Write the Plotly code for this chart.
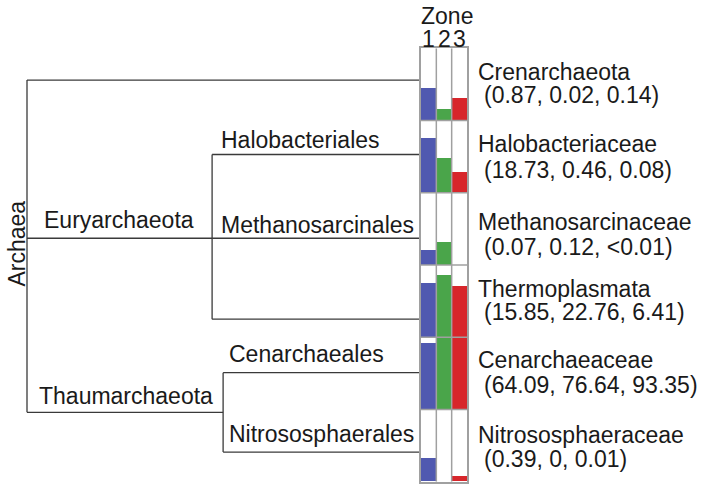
import plotly.graph_objects as go

W, H = 704, 489

# ---------------- data ----------------
taxa = ["Crenarchaeota", "Halobacteriaceae", "Methanosarcinaceae",
        "Thermoplasmata", "Cenarchaeaceae", "Nitrososphaeraceae"]
zone_labels = ["1", "2", "3"]
zone1_pct = ["0.87", "18.73", "0.07", "15.85", "64.09", "0.39"]
zone2_pct = ["0.02", "0.46", "0.12", "22.76", "76.64", "0"]
zone3_pct = ["0.14", "0.08", "<0.01", "6.41", "93.35", "0.01"]
# displayed bar fill (fraction of cell height)
zone1_fill = [0.44, 0.75, 0.21, 0.75, 0.91, 0.32]
zone2_fill = [0.16, 0.48, 0.32, 0.86, 1.00, 0.00]
zone3_fill = [0.31, 0.28, 0.00, 0.71, 1.00, 0.07]
zone_colors = ["#5059b0", "#4aa54a", "#d7262b"]

# tree: leaf order = rows; leaf y in row units
leaf_names = ["Crenarchaeota", "Halobacteriales", "Methanosarcinales",
              "Thermoplasmata", "Cenarchaeales", "Nitrososphaerales"]
leaf_y = [0.44, 1.47, 2.63, 3.75, 4.49, 5.59]
# internal nodes: depth and children
node_depth = {"Archaea": 0.0, "Euryarchaeota": 0.471, "Thaumarchaeota": 0.499}
node_children = {
    "Archaea": ["Crenarchaeota", "Euryarchaeota", "Thaumarchaeota"],
    "Euryarchaeota": ["Halobacteriales", "Methanosarcinales", "Thermoplasmata"],
    "Thaumarchaeota": ["Cenarchaeales", "Nitrososphaerales"],
}
leaf_depth = 1.0

# ---------------- layout helpers ----------------
FONT = "Liberation Sans, Arial, Helvetica, sans-serif"
TXT = "#1a1a1a"
FS = 23
def px(x):
    return x / W
def py(y):
    return 1 - y / H

row_top_px, row_bot_px = 48.3, 481.7
panel_l_px, panel_r_px = 421.0, 467.0
tree_r_px = 420.0
ydom = [py(row_bot_px), py(row_top_px)]
nrows = len(taxa)

fig = go.Figure()

# ---------------- tree ----------------
ypos = dict(zip(leaf_names, leaf_y))
xpos = {n: leaf_depth for n in leaf_names}
xpos.update(node_depth)

def node_y(n):
    if n in ypos:
        return ypos[n]
    ys = sorted(node_y(c) for c in node_children[n])
    y = ys[len(ys) // 2] if len(ys) % 2 == 1 and n != "Archaea" else (ys[0] + ys[-1]) / 2
    ypos[n] = y
    return y

for n in ["Euryarchaeota", "Thaumarchaeota", "Archaea"]:
    node_y(n)

lx, ly = [], []
for parent, kids in node_children.items():
    ky = [ypos[k] for k in kids]
    lx += [xpos[parent], xpos[parent], None]
    ly += [min(ky), max(ky), None]
    for k in kids:
        lx += [xpos[parent], xpos[k], None]
        ly += [ypos[k], ypos[k], None]

fig.add_trace(go.Scatter(x=lx, y=ly, mode="lines",
                         line=dict(color="#3a3a3a", width=1.3),
                         hoverinfo="skip", showlegend=False,
                         xaxis="x", yaxis="y"))

# ---------------- bars ----------------
fills = [zone1_fill, zone2_fill, zone3_fill]
for zi, (f, c) in enumerate(zip(fills, zone_colors)):
    fig.add_trace(go.Bar(
        x=[zi + 1] * nrows,
        y=[-v for v in f],
        base=[r + 1 for r in range(nrows)],
        width=1.0,
        marker=dict(color=c, line=dict(width=0)),
        hoverinfo="skip", showlegend=False,
        xaxis="x2", yaxis="y2"))

shapes = []
GRID = "#a0a0a0"
for b in range(1, len(zone_labels)):
    shapes.append(dict(type="line", xref="x2", yref="y2",
                       x0=b + 0.5, x1=b + 0.5, y0=0, y1=nrows,
                       line=dict(color=GRID, width=1.5)))
for r in range(1, nrows):
    shapes.append(dict(type="line", xref="x2", yref="y2",
                       x0=0.5, x1=len(zone_labels) + 0.5, y0=r, y1=r,
                       line=dict(color=GRID, width=1.5)))

# ---------------- annotations ----------------
ann = []
def label(text, x_px, base_px, xanchor="left", **kw):
    ann.append(dict(text=text, x=px(x_px), y=py(base_px - 8), xref="paper", yref="paper",
                    xanchor=xanchor, yanchor="middle", showarrow=False,
                    font=dict(family=FONT, size=FS, color=TXT), **kw))

line1_base = [80, 151.7, 230, 296.7, 368.3, 443.3]
line2_base = [103.3, 177.7, 255, 320, 393.3, 466.7]
for i, t in enumerate(taxa):
    label(t, 475.5, line1_base[i])
    label("(%s, %s, %s)" % (zone1_pct[i], zone2_pct[i], zone3_pct[i]), 482, line2_base[i])

label("Euryarchaeota", 42, 227.7)
label("Thaumarchaeota", 36.5, 404)
label("Halobacteriales", 219, 148.3)
label("Methanosarcinales", 219, 232.7)
label("Cenarchaeales", 226.5, 362.3)
label("Nitrososphaerales", 226.5, 442.3)

ann.append(dict(text="Archaea", x=px(16.5), y=py(244), xref="paper", yref="paper",
                xanchor="center", yanchor="middle", textangle=-90, showarrow=False,
                font=dict(family=FONT, size=FS, color=TXT)))

ann.append(dict(text="Zone", x=px(446.5), y=py(24 - 8), xref="paper", yref="paper",
                xanchor="center", yanchor="middle", showarrow=False,
                font=dict(family=FONT, size=FS, color=TXT)))
for zi, z in enumerate(zone_labels):
    ann.append(dict(text=z, x=zi + 1, y=py(46.7 - 8), xref="x2", yref="paper",
                    xanchor="center", yanchor="middle", showarrow=False, borderpad=0,
                    font=dict(family=FONT, size=FS, color=TXT)))

fig.update_layout(
    width=W, height=H,
    margin=dict(l=0, r=0, t=0, b=0),
    paper_bgcolor="white", plot_bgcolor="white",
    barmode="overlay", bargap=0,
    xaxis=dict(domain=[0, px(tree_r_px)], range=[-0.0687, 1.0],
               visible=False, fixedrange=True),
    yaxis=dict(domain=ydom, range=[nrows, 0], visible=False, fixedrange=True),
    xaxis2=dict(domain=[px(panel_l_px), px(panel_r_px)], range=[0.5, 3.5],
                showgrid=False, zeroline=False, showticklabels=False, ticks="",
                showline=True, mirror=True, linecolor=GRID, linewidth=1.5,
                anchor="y2", fixedrange=True),
    yaxis2=dict(domain=ydom, range=[nrows, 0],
                showgrid=False, zeroline=False, showticklabels=False, ticks="",
                showline=True, mirror=True, linecolor=GRID, linewidth=1.5,
                anchor="x2", fixedrange=True),
    shapes=shapes,
    annotations=ann,
)

fig.write_html("out.html", config={"displayModeBar": False},
               post_script="document.body.style.margin='0';document.body.style.padding='0';")
